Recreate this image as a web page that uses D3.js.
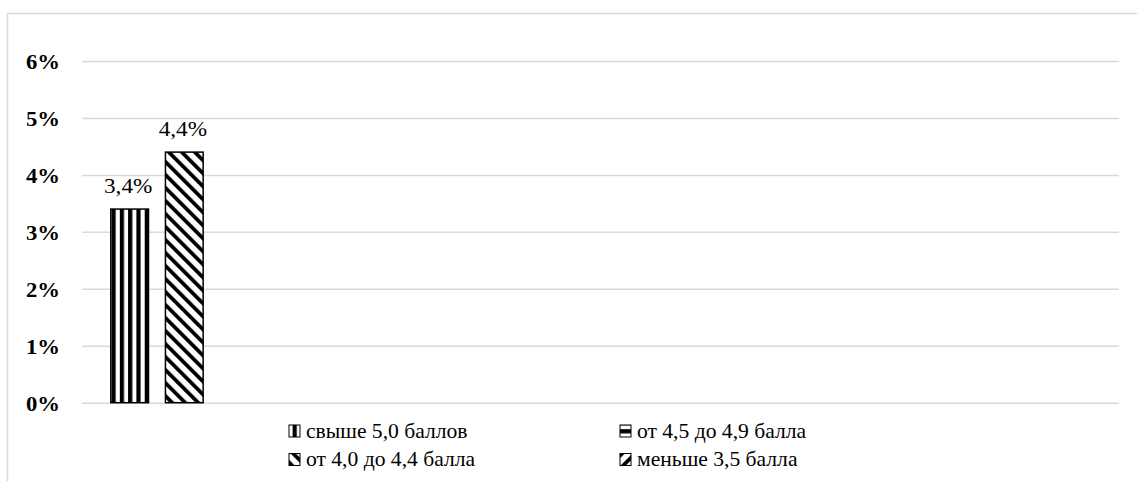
<!DOCTYPE html>
<html>
<head>
<meta charset="utf-8">
<script src="https://cdn.jsdelivr.net/npm/d3@7"></script>
<style>
  html, body { margin: 0; padding: 0; background: #fff; }
  svg { display: block; }
</style>
</head>
<body>
<svg id="chart" width="1137" height="481"></svg>
<script>
// Category slots on the x axis (only the first one carries values)
const categories = ["1", "2", "3", "4"];

// Series names, in data order
const seriesNames = [
  "свыше 5,0 баллов",
  "от 4,0 до 4,4 балла",
  "от 4,5 до 4,9 балла",
  "меньше 3,5 балла"
];

// Share per series, percent, one entry per category (null = no bar)
const valuesOver50   = [3.4, null, null, null];
const values40to44   = [4.4, null, null, null];
const values45to49   = [null, null, null, null];
const valuesUnder35  = [null, null, null, null];

// Y axis ticks, percent
const yTicks = [0, 1, 2, 3, 4, 5, 6];

const seriesValues = [valuesOver50, values40to44, values45to49, valuesUnder35];
const patternIds = ["pat-vert", "pat-ddiag", "pat-horiz", "pat-udiag"];

const FONT = '"Liberation Serif"';
const SX = 1.08; // horizontal text stretch of the page layout
const svg = d3.select("#chart");

// ---- hatch patterns ----
const defs = svg.append("defs");
function stripePattern(id, period, black, transform) {
  const p = defs.append("pattern")
    .attr("id", id)
    .attr("patternUnits", "userSpaceOnUse")
    .attr("width", period).attr("height", period)
    .attr("patternTransform", transform);
  p.append("rect").attr("width", period).attr("height", period).attr("fill", "#fff");
  p.append("rect").attr("x", 0).attr("y", 0)
    .attr("width", black).attr("height", period).attr("fill", "#000");
  return p;
}
stripePattern("pat-vert", 8.3, 4.2, "translate(111.5,0)");
stripePattern("pat-ddiag", 9.2, 3.8, "translate(166,152) rotate(-45)");
stripePattern("pat-horiz", 8.3, 4.2, "rotate(90)");
stripePattern("pat-udiag", 9.2, 3.8, "rotate(45)");

// ---- chart frame ----
svg.append("path")
  .attr("d", "M7.5,481 V13.5 H1137")
  .attr("fill", "none")
  .attr("stroke", "#d9d9d9")
  .attr("stroke-width", 1.5);

// ---- scales ----
const x0 = d3.scaleBand().domain(categories).range([82, 1119]).padding(0);
const C = x0.bandwidth();
const x1 = d3.scaleBand().domain(d3.range(seriesNames.length))
  .range([28.8, C - 28.8]).paddingInner(0.31).paddingOuter(0);
const y = d3.scaleLinear().domain([0, 6]).range([402.7, 61]);

// ---- gridlines + y axis ----
const yAxis = d3.axisLeft(y)
  .tickValues(yTicks)
  .tickSize(-(1119 - 82))
  .tickPadding(22)
  .tickFormat(d => d + "%");
const gy = svg.append("g").attr("transform", "translate(82,0)").call(yAxis);
gy.select(".domain").remove();
gy.selectAll(".tick line").attr("stroke", "#d9d9d9").attr("stroke-width", 1.5);
gy.selectAll(".tick text")
  .attr("x", null).attr("dy", null)
  .attr("transform", `translate(-22,7.5) scale(${SX},1)`)
  .attr("text-anchor", "end")
  .style("font-family", FONT)
  .style("font-weight", "bold")
  .style("font-size", "21px")
  .attr("fill", "#000");

// ---- bars ----
const bars = [];
categories.forEach((c, ci) => {
  seriesValues.forEach((vals, si) => {
    if (vals[ci] !== null && vals[ci] !== undefined) {
      bars.push({ cat: c, s: si, v: vals[ci] });
    }
  });
});

const gBars = svg.append("g");
gBars.selectAll("rect").data(bars).join("rect")
  .attr("x", d => x0(d.cat) + x1(d.s))
  .attr("y", d => y(d.v))
  .attr("width", x1.bandwidth())
  .attr("height", d => y(0) - y(d.v))
  .attr("fill", d => `url(#${patternIds[d.s]})`)
  .attr("stroke", "#000")
  .attr("stroke-width", 1.5);

// ---- value labels ----
const fmt = v => v.toFixed(1).replace(".", ",") + "%";
gBars.selectAll("text").data(bars).join("text")
  .attr("transform", d =>
    `translate(${x0(d.cat) + x1(d.s) + x1.bandwidth() / 2 - 1.5},${y(d.v) - 16}) scale(${SX},1)`)
  .attr("text-anchor", "middle")
  .style("font-family", FONT)
  .style("font-size", "21.5px")
  .attr("fill", "#000")
  .text(d => fmt(d.v));

// ---- legend (two columns, filled column-first) ----
const legendPos = [
  { x: 289, y: 437.5 },
  { x: 289, y: 466 },
  { x: 620, y: 437.5 },
  { x: 620, y: 466 }
];
const gLeg = svg.append("g");
const items = gLeg.selectAll("g").data(seriesNames).join("g")
  .attr("transform", (d, i) => `translate(${legendPos[i].x},${legendPos[i].y})`);
items.append("rect")
  .attr("x", 0).attr("y", -12.5)
  .attr("width", 11).attr("height", 12)
  .attr("fill", (d, i) => `url(#${patternIds[i]})`)
  .attr("stroke", "#000")
  .attr("stroke-width", 1);
items.append("text")
  .attr("transform", `translate(17,0) scale(${SX},1)`)
  .style("font-family", FONT)
  .style("font-size", "20px")
  .attr("fill", "#000")
  .text(d => d);
</script>
</body>
</html>
